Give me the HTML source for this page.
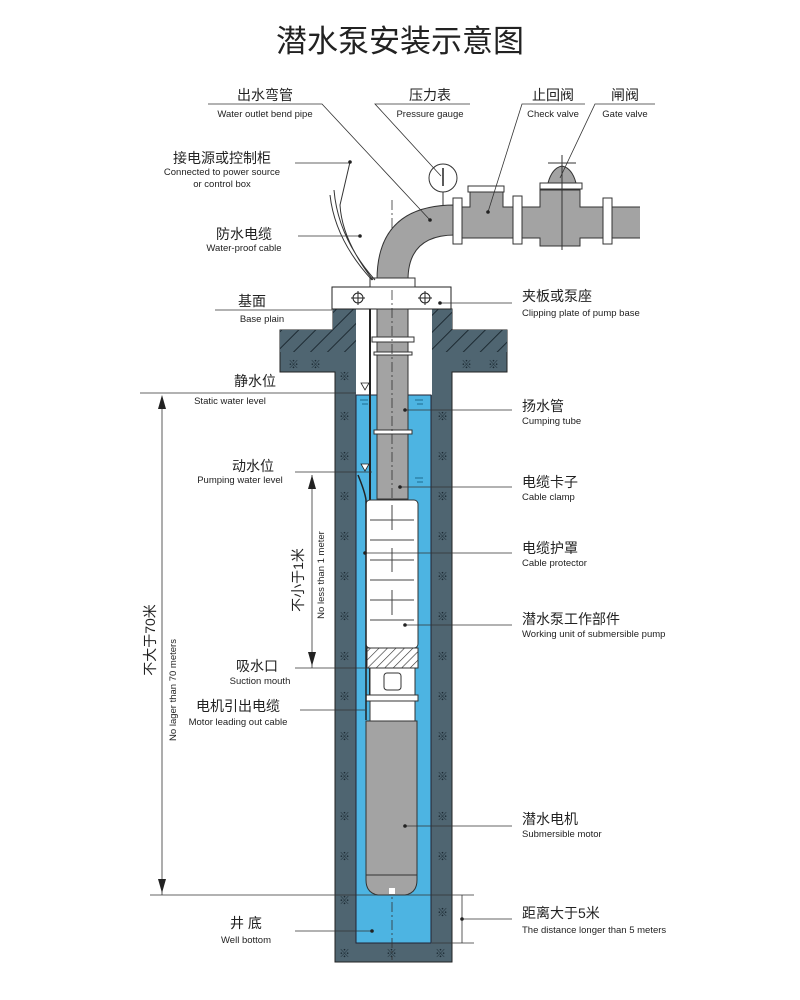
<!DOCTYPE html>
<html><head><meta charset="utf-8"><style>
body{margin:0;background:#fff}
svg{display:block}
text{font-family:"Liberation Sans","Noto Sans CJK SC",sans-serif;fill:#222}
.c{font-size:14px}
.e{font-size:9.5px}
.m{fill:#1c2a33;font-size:11px}
</style></head><body>
<svg width="800" height="1000" viewBox="0 0 800 1000">
<defs>
<pattern id="h" width="12" height="12" patternUnits="userSpaceOnUse" patternTransform="rotate(45)">
<rect width="12" height="12" fill="#4f6571"/><line x1="0" y1="0" x2="0" y2="12" stroke="#1e2b33" stroke-width="2"/></pattern>
<pattern id="hx" width="6" height="6" patternUnits="userSpaceOnUse" patternTransform="rotate(45)">
<rect width="6" height="6" fill="#fff"/><line x1="0" y1="0" x2="0" y2="6" stroke="#333" stroke-width="1.2"/></pattern>
</defs>
<text x="400" y="52" text-anchor="middle" style="font-size:31px">潜水泵安装示意图</text>

<!-- concrete -->
<path d="M333,309 H452 V330 H507 V372 H452 V962 H335 V372 H280 V330 H333 Z" fill="#4f6571" stroke="#222"/>
<path d="M333,309 H356 V352 H280 V330 H333 Z M432,309 H452 V330 H507 V352 H432 Z" fill="url(#h)"/>
<rect x="356" y="309" width="76" height="86" fill="#fff"/>
<rect x="356" y="395" width="75" height="548" fill="#4db4e2" stroke="#223" stroke-width="1"/>
<g>
<text class="m" x="288" y="368">※</text><text class="m" x="310" y="368">※</text>
<text class="m" x="461" y="368">※</text><text class="m" x="488" y="368">※</text>
<text class="m" x="339" y="380">※</text>
<text class="m" x="339" y="420">※</text><text class="m" x="437" y="420">※</text>
<text class="m" x="339" y="460">※</text><text class="m" x="437" y="460">※</text>
<text class="m" x="339" y="500">※</text><text class="m" x="437" y="500">※</text>
<text class="m" x="339" y="540">※</text><text class="m" x="437" y="540">※</text>
<text class="m" x="339" y="580">※</text><text class="m" x="437" y="580">※</text>
<text class="m" x="339" y="620">※</text><text class="m" x="437" y="620">※</text>
<text class="m" x="339" y="660">※</text><text class="m" x="437" y="660">※</text>
<text class="m" x="339" y="700">※</text><text class="m" x="437" y="700">※</text>
<text class="m" x="339" y="740">※</text><text class="m" x="437" y="740">※</text>
<text class="m" x="339" y="780">※</text><text class="m" x="437" y="780">※</text>
<text class="m" x="339" y="820">※</text><text class="m" x="437" y="820">※</text>
<text class="m" x="339" y="860">※</text><text class="m" x="437" y="860">※</text>
<text class="m" x="339" y="904">※</text><text class="m" x="437" y="916">※</text>
<text class="m" x="339" y="957">※</text><text class="m" x="386" y="957">※</text><text class="m" x="435" y="957">※</text>
</g>
<!-- water level marks -->
<path d="M361,383h8l-4,7z M361,464h8l-4,7z" fill="#fff" stroke="#222" stroke-width=".8"/>
<g stroke="#1d6d90" stroke-width="1"><path d="M360,400h8M362,404h6M415,400h8M417,404h6M415,478h8M417,482h6"/></g>

<!-- base plate -->
<rect x="332" y="287" width="119" height="22" fill="#fff" stroke="#222"/>
<circle cx="358" cy="298" r="5" fill="none" stroke="#222"/><path d="M351,298H365M358,291V305" stroke="#222"/>
<circle cx="425" cy="298" r="5" fill="none" stroke="#222"/><path d="M418,298H432M425,291V305" stroke="#222"/>

<!-- riser pipe -->
<rect x="377" y="309" width="31" height="190" fill="#a3a3a3" stroke="#333"/>
<rect x="372" y="337" width="42" height="5" fill="#fff" stroke="#333"/>
<rect x="374" y="352" width="38" height="3" fill="#fff" stroke="#333"/>
<rect x="374" y="430" width="38" height="4" fill="#fff" stroke="#333"/>
<line x1="370" y1="309" x2="370" y2="700" stroke="#222" stroke-width="2"/>
<line x1="392" y1="200" x2="392" y2="960" stroke="#333" stroke-dasharray="10,3,2,3" stroke-width=".8"/>

<!-- pump body -->
<rect x="366" y="500" width="52" height="148" rx="4" fill="#fff" stroke="#333"/>
<g stroke="#444" fill="none">
<path d="M370,520H414M370,540H414M370,560H414M370,580H414M370,600H414M370,620H414"/>
<path d="M392,505V530M392,548V572M392,590V615"/>
</g>
<rect x="367" y="648" width="51" height="20" fill="url(#hx)" stroke="#333"/>
<rect x="370" y="668" width="45" height="27" fill="#fff" stroke="#333"/>
<rect x="384" y="673" width="17" height="17" rx="3" fill="#fff" stroke="#333"/>
<rect x="366" y="695" width="52" height="6" fill="#fff" stroke="#333"/>
<rect x="370" y="701" width="45" height="20" fill="#fff" stroke="#333"/>
<path d="M366,721H417V880Q417,893 405,895H378Q366,893 366,880Z" fill="#a3a3a3" stroke="#333"/>
<line x1="366" y1="875" x2="417" y2="875" stroke="#333"/>
<rect x="389" y="888" width="6" height="6" fill="#fff"/>
<path d="M358,475Q365,492 366,500V720" stroke="#222" stroke-width="1.5" fill="none"/>

<!-- elbow & top pipe -->
<path d="M377,280 Q377,205 455,205 L455,235 Q408,235 408,280 Z" fill="#a3a3a3" stroke="#333"/>
<rect x="370" y="278" width="45" height="9" fill="#fff" stroke="#333"/>
<path d="M462,207H470V190H503V207H513V238H462Z" fill="#a3a3a3" stroke="#333"/>
<rect x="468" y="186" width="36" height="6" fill="#fff" stroke="#333"/>
<path d="M522,207H540V190H580V207H603V238H580V246H540V238H522Z" fill="#a3a3a3" stroke="#333"/>
<path d="M548,183Q552,168 562,166Q572,168 576,183Z" fill="#a3a3a3" stroke="#333"/>
<rect x="540" y="183" width="42" height="6" fill="#fff" stroke="#333"/>
<path d="M562,155V250M548,163H576" stroke="#333"/>
<rect x="612" y="207" width="28" height="31" fill="#a3a3a3"/>
<path d="M612,207H640M612,238H640" stroke="#333"/>
<rect x="453" y="198" width="9" height="46" fill="#fff" stroke="#333"/>
<rect x="513" y="196" width="9" height="48" fill="#fff" stroke="#333"/>
<rect x="603" y="198" width="9" height="46" fill="#fff" stroke="#333"/>
<line x1="443" y1="192" x2="443" y2="205" stroke="#333"/>
<circle cx="443" cy="178" r="14" fill="#fff" stroke="#333"/>
<line x1="443" y1="168" x2="443" y2="186" stroke="#222" stroke-width="1.5"/>
<!-- cables -->
<path d="M350,162L340,205Q342,240 373,280M330,195Q335,240 372,280M334,190Q338,238 375,280" stroke="#333" fill="none"/>

<!-- labels & leaders -->
<g stroke="#333" stroke-width=".8" fill="none">
<path d="M208,104H322L430,220"/>
<path d="M470,104H375L441,176"/>
<path d="M585,104H522L488,212"/>
<path d="M655,104H595L560,178"/>
<path d="M295,163H350"/>
<path d="M298,236H360"/>
<path d="M215,310H332"/>
<path d="M440,303H512"/>
<path d="M140,393H356"/>
<path d="M405,410H512"/>
<path d="M295,472H372"/>
<path d="M400,487H512"/>
<path d="M365,553H512"/>
<path d="M405,625H512"/>
<path d="M295,668H372"/>
<path d="M300,710H365"/>
<path d="M405,826H512"/>
<path d="M295,931H372"/>
<path d="M150,895H474M432,943H474M462,895V943M462,919H512"/>
<path d="M162,400V895M312,475V668"/>
</g>
<g fill="#222">
<path d="M162,395l-4,14h8z M162,893l-4,-14h8z M312,475l-4,14h8z M312,666l-4,-14h8z"/>
<circle cx="350" cy="162" r="1.8"/><circle cx="360" cy="236" r="1.8"/><circle cx="430" cy="220" r="1.8"/><circle cx="488" cy="212" r="1.8"/><circle cx="440" cy="303" r="1.8"/><circle cx="405" cy="410" r="1.8"/><circle cx="400" cy="487" r="1.8"/><circle cx="365" cy="553" r="1.8"/><circle cx="405" cy="625" r="1.8"/><circle cx="405" cy="826" r="1.8"/><circle cx="372" cy="931" r="1.8"/><circle cx="462" cy="919" r="1.8"/>
</g>

<text class="c" x="265" y="100" text-anchor="middle">出水弯管</text>
<text class="e" x="265" y="117" text-anchor="middle">Water outlet bend pipe</text>
<text class="c" x="430" y="100" text-anchor="middle">压力表</text>
<text class="e" x="430" y="117" text-anchor="middle">Pressure gauge</text>
<text class="c" x="553" y="100" text-anchor="middle">止回阀</text>
<text class="e" x="553" y="117" text-anchor="middle">Check valve</text>
<text class="c" x="625" y="100" text-anchor="middle">闸阀</text>
<text class="e" x="625" y="117" text-anchor="middle">Gate valve</text>
<text class="c" x="222" y="163" text-anchor="middle">接电源或控制柜</text>
<text class="e" x="222" y="175" text-anchor="middle">Connected to power source</text>
<text class="e" x="222" y="187" text-anchor="middle">or control box</text>
<text class="c" x="244" y="239" text-anchor="middle">防水电缆</text>
<text class="e" x="244" y="251" text-anchor="middle">Water-proof cable</text>
<text class="c" x="252" y="306" text-anchor="middle">基面</text>
<text class="e" x="262" y="322" text-anchor="middle">Base plain</text>
<text class="c" x="522" y="301">夹板或泵座</text>
<text class="e" x="522" y="316">Clipping plate of pump base</text>
<text class="c" x="255" y="386" text-anchor="middle">静水位</text>
<text class="e" x="230" y="404" text-anchor="middle">Static water level</text>
<text class="c" x="522" y="411">扬水管</text>
<text class="e" x="522" y="424">Cumping tube</text>
<text class="c" x="253" y="471" text-anchor="middle">动水位</text>
<text class="e" x="240" y="483" text-anchor="middle">Pumping water level</text>
<text class="c" x="522" y="487">电缆卡子</text>
<text class="e" x="522" y="500">Cable clamp</text>
<text class="c" x="522" y="553">电缆护罩</text>
<text class="e" x="522" y="566">Cable protector</text>
<text class="c" x="522" y="624">潜水泵工作部件</text>
<text class="e" x="522" y="637">Working unit of submersible pump</text>
<text class="c" x="257" y="671" text-anchor="middle">吸水口</text>
<text class="e" x="260" y="684" text-anchor="middle">Suction mouth</text>
<text class="c" x="238" y="711" text-anchor="middle">电机引出电缆</text>
<text class="e" x="238" y="725" text-anchor="middle">Motor leading out cable</text>
<text class="c" x="522" y="824">潜水电机</text>
<text class="e" x="522" y="837">Submersible motor</text>
<text class="c" x="246" y="928" text-anchor="middle">井 底</text>
<text class="e" x="246" y="943" text-anchor="middle">Well bottom</text>
<text class="c" x="522" y="918">距离大于5米</text>
<text class="e" x="522" y="933">The distance longer than 5 meters</text>
<text class="c" transform="translate(155,640) rotate(-90)" text-anchor="middle">不大于70米</text>
<text class="e" transform="translate(176,690) rotate(-90)" text-anchor="middle">No lager than 70 meters</text>
<text class="c" transform="translate(303,580) rotate(-90)" text-anchor="middle">不小于1米</text>
<text class="e" transform="translate(324,575) rotate(-90)" text-anchor="middle">No less than 1 meter</text>
</svg>
</body></html>
